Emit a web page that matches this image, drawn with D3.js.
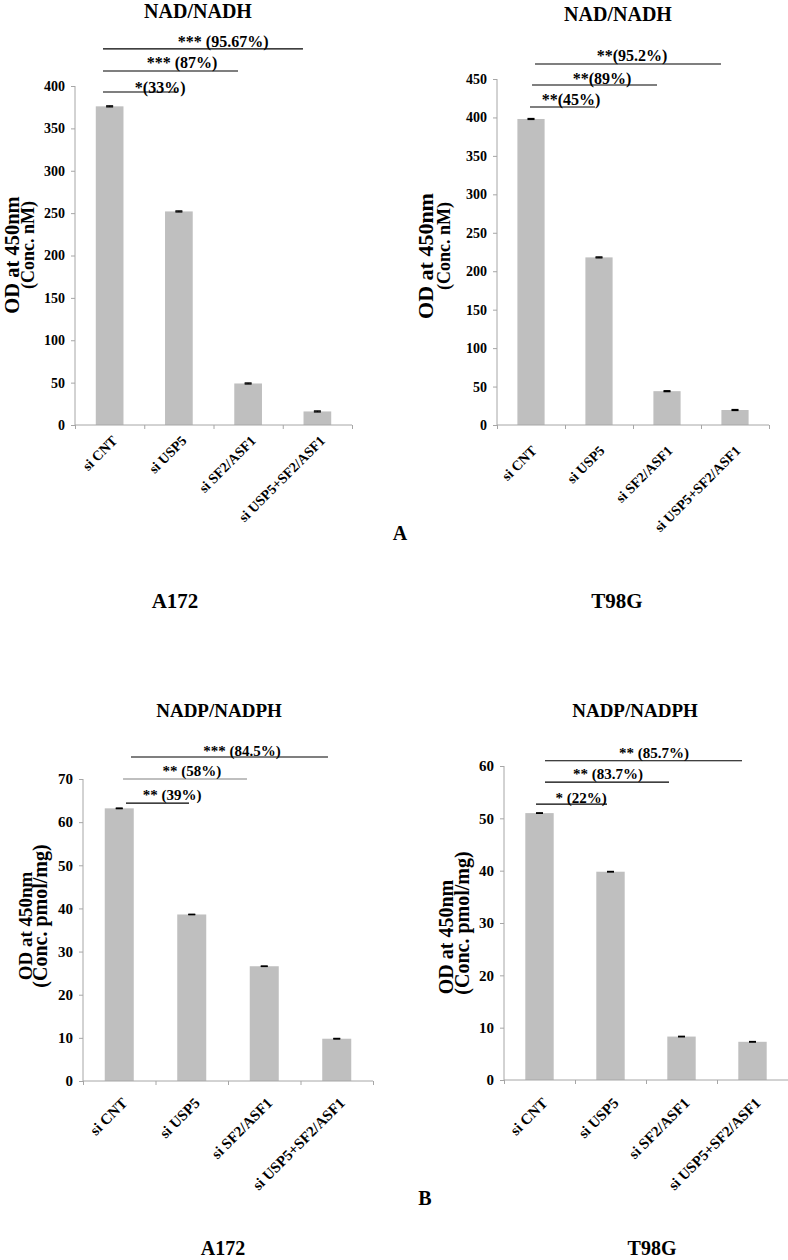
<!DOCTYPE html>
<html><head><meta charset="utf-8">
<script src="https://cdn.jsdelivr.net/npm/d3@7"></script>
<style>
body{margin:0;background:#fff}
svg text{font-family:'Liberation Serif','Times New Roman',serif;font-weight:bold;fill:#000}
</style>
</head><body><svg id="c" width="788" height="1260"></svg>
<script>
// ---------------- DATA ----------------
const categories = ["si CNT", "si USP5", "si SF2/ASF1", "si USP5+SF2/ASF1"];
const nadA172 = [376, 252, 49, 16];
const nadA172Err = [0.6, 0.6, 0.6, 0.6];
const nadT98G = [398, 218, 44, 19.5];
const nadT98GErr = [0.6, 0.6, 0.6, 0.6];
const nadpA172 = [63.2, 38.6, 26.6, 9.8];
const nadpA172Err = [0.07, 0.05, 0.05, 0.07];
const nadpT98G = [51.0, 39.8, 8.3, 7.3];
const nadpT98GErr = [0.05, 0.05, 0.05, 0.05];
const ticksNadA172 = [0, 50, 100, 150, 200, 250, 300, 350, 400];
const ticksNadT98G = [0, 50, 100, 150, 200, 250, 300, 350, 400, 450];
const ticksNadpA172 = [0, 10, 20, 30, 40, 50, 60, 70];
const ticksNadpT98G = [0, 10, 20, 30, 40, 50, 60];
const sigNadA172 = ["*(33%)", "*** (87%)", "*** (95.67%)"];
const sigNadT98G = ["**(45%)", "**(89%)", "**(95.2%)"];
const sigNadpA172 = ["** (39%)", "** (58%)", "*** (84.5%)"];
const sigNadpT98G = ["* (22%)", "** (83.7%)", "** (85.7%)"];
const titles = ["NAD/NADH", "NADP/NADPH"];
const yTitleMain = "OD at 450nm";
const yTitleNad = "(Conc. nM)";
const yTitleNadp = "(Conc. pmol/mg)";
const cellLines = ["A172", "T98G"];
const panelLetters = ["A", "B"];

// ---------------- LAYOUT ----------------
const svg = d3.select("#c");
const BAR = "#bfbfbf", AXIS = "#a6a6a6";

const panels = [
  {values: nadA172, err: nadA172Err, ticks: ticksNadA172, sig: sigNadA172, title: titles[0], y2: yTitleNad,
   x0: 75, x1: 352, yb: 425, yt: 86, ymax: 400,
   titleX: 198, titleY: 18, titleFs: 20, tickFs: 14, catFs: 14, catDx: 2, catDy: 10, sigFs: 16,
   yl1: {x: 19, y: 255, fs: 20.5}, yl2: {x: 34, y: 245, fs: 18},
   sigGeom: [{a: 0.404, b: 1.473, v: 392.9, t: 1.23, dy: 1, c: "#000"},
             {a: 0.404, b: 2.354, v: 417.7, t: 1.545, dy: -3, c: "#000"},
             {a: 0.404, b: 3.292, v: 443.7, t: 2.14, dy: -2, c: "#000"}]},
  {values: nadT98G, err: nadT98GErr, ticks: ticksNadT98G, sig: sigNadT98G, title: titles[0], y2: yTitleNad,
   x0: 497, x1: 769, yb: 425, yt: 79, ymax: 450,
   titleX: 618, titleY: 21, titleFs: 20, tickFs: 14, catFs: 14, catDx: 0, catDy: 20, sigFs: 16,
   yl1: {x: 433, y: 256, fs: 22}, yl2: {x: 450, y: 246, fs: 18},
   sigGeom: [{a: 0.485, b: 1.441, v: 413.6, t: 1.088, dy: -2, c: "#000"},
             {a: 0.515, b: 2.353, v: 442.2, t: 1.544, dy: -1, c: "#000"},
             {a: 0.559, b: 3.294, v: 469.5, t: 1.985, dy: -3, c: "#000"}]},
  {values: nadpA172, err: nadpA172Err, ticks: ticksNadpA172, sig: sigNadpA172, title: titles[1], y2: yTitleNadp,
   x0: 83, x1: 373, yb: 1081, yt: 779, ymax: 70,
   titleX: 219, titleY: 717, titleFs: 19, tickFs: 15, catFs: 15, catDx: 2, catDy: 16, sigFs: 15,
   yl1: {x: 32, y: 926, fs: 19}, yl2: {x: 47, y: 916, fs: 20},
   sigGeom: [{a: 0.593, b: 1.462, v: 64.4, t: 1.228, dy: -3, c: "#000"},
             {a: 0.552, b: 2.262, v: 70.0, t: 1.503, dy: -3, c: "#808080"},
             {a: 0.662, b: 3.379, v: 75.1, t: 2.193, dy: -1, c: "#000"}]},
  {values: nadpT98G, err: nadpT98GErr, ticks: ticksNadpT98G, sig: sigNadpT98G, title: titles[1], y2: yTitleNadp,
   x0: 504, x1: 788, yb: 1080, yt: 766, ymax: 60,
   titleX: 635, titleY: 717, titleFs: 19, tickFs: 15, catFs: 15, catDx: 2, catDy: 17, sigFs: 15,
   yl1: {x: 453, y: 937, fs: 20}, yl2: {x: 469, y: 923, fs: 20},
   sigGeom: [{a: 0.451, b: 1.451, v: 52.7, t: 1.085, dy: -1, c: "#000"},
             {a: 0.577, b: 2.324, v: 56.9, t: 1.465, dy: -3, c: "#000"},
             {a: 0.577, b: 3.352, v: 61.0, t: 2.113, dy: -3, c: "#000"}]}
];

panels.forEach(p => {
  const g = svg.append("g");
  const x = d3.scaleBand().domain(categories).range([p.x0, p.x1]).paddingInner(0.6).paddingOuter(0.3);
  const edge = d3.scaleLinear().domain([0, categories.length]).range([p.x0, p.x1]);
  const y = d3.scaleLinear().domain([0, p.ymax]).range([p.yb, p.yt]);

  // bars
  g.selectAll("rect.bar").data(p.values).join("rect").attr("class", "bar")
    .attr("x", (d, i) => x(categories[i])).attr("width", x.bandwidth())
    .attr("y", d => y(d)).attr("height", d => y(0) - y(d)).attr("fill", BAR);

  // error bars
  const eg = g.selectAll("g.err").data(p.values).join("g").attr("class", "err");
  eg.append("line")
    .attr("x1", (d, i) => x(categories[i]) + x.bandwidth() / 2)
    .attr("x2", (d, i) => x(categories[i]) + x.bandwidth() / 2)
    .attr("y1", (d, i) => y(d + p.err[i])).attr("y2", (d, i) => y(d - p.err[i]))
    .attr("stroke", "#000").attr("stroke-width", 1);
  [1, -1].forEach(s => {
    eg.append("line")
      .attr("x1", (d, i) => x(categories[i]) + x.bandwidth() / 2 - 3.5)
      .attr("x2", (d, i) => x(categories[i]) + x.bandwidth() / 2 + 3.5)
      .attr("y1", (d, i) => y(d + s * p.err[i])).attr("y2", (d, i) => y(d + s * p.err[i]))
      .attr("stroke", "#000").attr("stroke-width", 1.3);
  });

  // y axis
  const ya = g.append("g").attr("transform", `translate(${p.x0},0)`)
    .call(d3.axisLeft(y).tickValues(p.ticks).tickSize(4).tickPadding(6).tickFormat(d3.format("d")));
  ya.select(".domain").attr("stroke", AXIS).attr("d", `M0,${y(0)}V${y(p.ymax)}`);
  ya.selectAll(".tick line").attr("stroke", AXIS);
  ya.selectAll(".tick text").attr("font-size", p.tickFs).style("font-family", "'Liberation Serif',serif").style("font-weight", "bold");

  // x axis (category boundaries)
  const xa = g.append("g").attr("transform", `translate(0,${p.yb})`)
    .call(d3.axisBottom(edge).tickValues(d3.range(categories.length + 1)).tickSize(4).tickFormat(""));
  xa.select(".domain").attr("stroke", AXIS).attr("d", `M${p.x0},0H${p.x1}`);
  xa.selectAll(".tick line").attr("stroke", AXIS);

  // category labels
  const cap = 0.66 * p.catFs;
  g.selectAll("text.cat").data(categories).join("text").attr("class", "cat")
    .attr("font-size", p.catFs).attr("text-anchor", "end")
    .attr("transform", d => {
      const cx = x(d) + x.bandwidth() / 2 + p.catDx + cap * 0.7071;
      const cy = p.yb + p.catDy + cap * 0.7071;
      return `translate(${cx},${cy}) rotate(-45)`;
    })
    .text(d => d);

  // title
  g.append("text").attr("x", p.titleX).attr("y", p.titleY).attr("text-anchor", "middle")
    .attr("font-size", p.titleFs).text(p.title);

  // y titles
  g.append("text").attr("transform", `translate(${p.yl1.x},${p.yl1.y}) rotate(-90)`)
    .attr("text-anchor", "middle").attr("font-size", p.yl1.fs).text(yTitleMain);
  g.append("text").attr("transform", `translate(${p.yl2.x},${p.yl2.y}) rotate(-90)`)
    .attr("text-anchor", "middle").attr("font-size", p.yl2.fs).text(p.y2);

  // significance brackets
  p.sig.forEach((lab, i) => {
    const s = p.sigGeom[i];
    g.append("line").attr("x1", edge(s.a)).attr("x2", edge(s.b))
      .attr("y1", y(s.v)).attr("y2", y(s.v)).attr("stroke", s.c).attr("stroke-width", 1.2);
    g.append("text").attr("x", edge(s.t)).attr("y", y(s.v) + s.dy).attr("text-anchor", "middle")
      .attr("font-size", p.sigFs).text(lab);
  });
});

// panel letters and cell line labels
const extra = [
  {t: panelLetters[0], x: 400, y: 540, fs: 20},
  {t: cellLines[0], x: 175, y: 608, fs: 21},
  {t: cellLines[1], x: 617, y: 608, fs: 21},
  {t: panelLetters[1], x: 425, y: 1205, fs: 20},
  {t: cellLines[0], x: 223, y: 1255, fs: 20},
  {t: cellLines[1], x: 652, y: 1255, fs: 20}
];
svg.selectAll("text.extra").data(extra).join("text").attr("class", "extra")
  .attr("x", d => d.x).attr("y", d => d.y).attr("text-anchor", "middle")
  .attr("font-size", d => d.fs).text(d => d.t);
</script>
</body></html>
